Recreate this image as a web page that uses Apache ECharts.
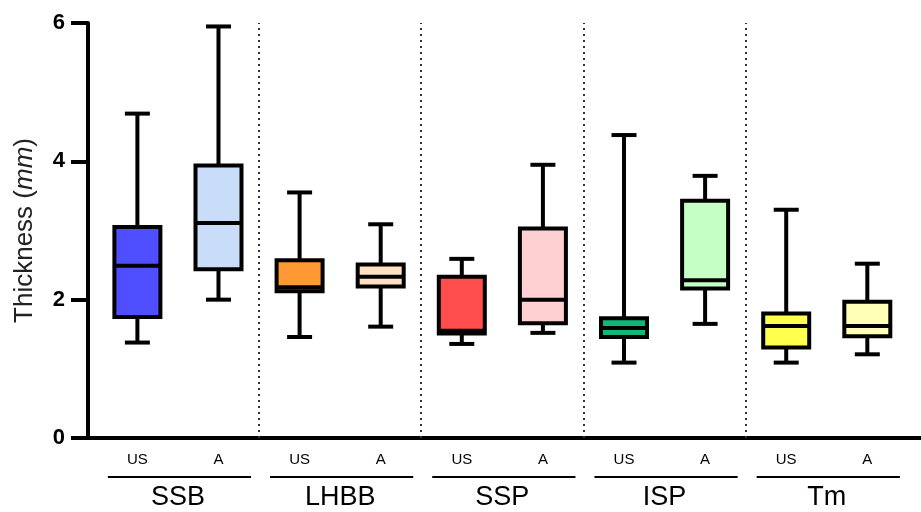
<!DOCTYPE html>
<html>
<head>
<meta charset="utf-8">
<title>Thickness</title>
<script src="https://cdn.jsdelivr.net/npm/echarts@6/dist/echarts.min.js"></script>
<style>
  html, body { margin: 0; padding: 0; background: #fff; }
  #main { width: 921px; height: 512px; }
</style>
</head>
<body>
<div id="main"></div>
<script>
// groups and the two sub-groups in each
const groups = ['SSB', 'LHBB', 'SSP', 'ISP', 'Tm']
const subLabels = ['US', 'A', 'US', 'A', 'US', 'A', 'US', 'A', 'US', 'A']

// box values, one per box
const mins    = [1.38, 2.00, 1.46, 1.61, 1.36, 1.52, 1.09, 1.65, 1.09, 1.21]
const q1s     = [1.75, 2.44, 2.12, 2.19, 1.51, 1.66, 1.46, 2.16, 1.31, 1.47]
const medians = [2.49, 3.11, 2.18, 2.33, 1.55, 2.00, 1.59, 2.28, 1.62, 1.62]
const q3s     = [3.05, 3.94, 2.57, 2.51, 2.33, 3.03, 1.73, 3.43, 1.80, 1.97]
const maxs    = [4.69, 5.95, 3.55, 3.09, 2.59, 3.95, 4.38, 3.79, 3.30, 2.52]

const yTicks = [0, 2, 4, 6]

const colors = ['#4f4fff', '#c9ddf8', '#ff9933', '#ffe0c0', '#ff4d4d',
                '#ffd0d2', '#12b87a', '#c6ffc6', '#ffff4d', '#ffffb8']

const FONT = "'Liberation Sans', Arial, sans-serif"
const LW = 4

const boxData = []
for (let i = 0; i < subLabels.length; i++) {
  boxData.push({
    value: [i, mins[i], q1s[i], medians[i], q3s[i], maxs[i]],
    itemStyle: { color: colors[i] }
  })
}
const groupData = groups.map((g, i) => [i])

const chart = echarts.init(document.getElementById('main'), null, { renderer: 'canvas' })

function renderBox(params, api) {
  const x = api.value(0)
  const cx = api.coord([x, 0])[0]
  const y = k => api.coord([x, api.value(k)])[1]
  const yMin = y(1), yQ1 = y(2), yMed = y(3), yQ3 = y(4), yMax = y(5)
  const half = 23, cap = 12.5
  const line = { stroke: '#000', lineWidth: LW }
  return {
    type: 'group',
    children: [
      { type: 'line', shape: { x1: cx, y1: yQ3, x2: cx, y2: yMax }, style: line },
      { type: 'line', shape: { x1: cx, y1: yQ1, x2: cx, y2: yMin }, style: line },
      { type: 'line', shape: { x1: cx - cap, y1: yMax, x2: cx + cap, y2: yMax }, style: line },
      { type: 'line', shape: { x1: cx - cap, y1: yMin, x2: cx + cap, y2: yMin }, style: line },
      { type: 'rect', shape: { x: cx - half, y: yQ3, width: half * 2, height: yQ1 - yQ3 },
        style: { fill: api.visual('color'), stroke: '#000', lineWidth: LW } },
      { type: 'line', shape: { x1: cx - half, y1: yMed, x2: cx + half, y2: yMed }, style: line }
    ]
  }
}

function renderGroupLine(params, api) {
  const g = api.value(0)
  const left = api.coord([g * 2 - 0.5, 0])
  const right = api.coord([g * 2 + 1.5, 0])
  const yy = left[1] + 39
  return {
    type: 'line',
    shape: { x1: left[0] + 11, y1: yy, x2: right[0] - 8, y2: yy },
    style: { stroke: '#000', lineWidth: 2 }
  }
}

const xCommon = {
  type: 'value',
  min: -0.609,
  max: 9.662,
  splitLine: { show: false },
  axisTick: { show: false }
}

const option = {
  animation: false,
  backgroundColor: '#fff',
  grid: { left: 88, right: 0, top: 23, bottom: 74 },
  xAxis: [
    Object.assign({}, xCommon, {
      position: 'bottom',
      axisLine: { show: true, onZero: false, lineStyle: { color: '#000', width: LW } },
      axisLabel: {
        customValues: subLabels.map((s, i) => i),
        formatter: v => subLabels[Math.round(v)],
        margin: 14,
        fontSize: 15,
        fontFamily: FONT,
        color: '#000'
      }
    }),
    Object.assign({}, xCommon, {
      position: 'bottom',
      axisLine: { show: false },
      axisLabel: {
        customValues: groups.map((g, i) => i * 2 + 0.5),
        formatter: v => groups[Math.round((v - 0.5) / 2)],
        margin: 46,
        fontSize: 27,
        fontFamily: FONT,
        color: '#000'
      }
    })
  ],
  yAxis: {
    type: 'value',
    min: yTicks[0],
    max: yTicks[yTicks.length - 1],
    interval: 2,
    name: '{n|Thickness (}{i|mm}{n|)}',
    nameLocation: 'middle',
    nameGap: 50,
    nameTextStyle: {
      rich: {
        n: { fontSize: 26, fontFamily: FONT, color: '#222' },
        i: { fontSize: 26, fontFamily: FONT, fontStyle: 'italic', color: '#222' }
      }
    },
    axisLine: { show: true, onZero: false, lineStyle: { color: '#000', width: LW } },
    axisTick: { show: true, length: 17, lineStyle: { color: '#000', width: LW } },
    axisLabel: { margin: 23, fontSize: 22, fontWeight: 'bold', fontFamily: FONT, color: '#000' },
    splitLine: { show: false }
  },
  series: [
    {
      type: 'custom',
      name: 'separators',
      data: [],
      renderItem: () => null,
      markLine: {
        silent: true,
        symbol: 'none',
        label: { show: false },
        lineStyle: { color: '#333', width: 2, type: [2, 4], cap: 'butt' },
        data: [{ xAxis: 1.5 }, { xAxis: 3.5 }, { xAxis: 5.5 }, { xAxis: 7.5 }]
      }
    },
    {
      type: 'custom',
      name: 'boxes',
      data: boxData,
      renderItem: renderBox,
      encode: { x: 0, y: [1, 2, 3, 4, 5] }
    },
    {
      type: 'custom',
      name: 'groupLines',
      data: groupData,
      renderItem: renderGroupLine,
      encode: { x: 0 }
    }
  ]
}

chart.setOption(option)
window.onresize = chart.resize
</script>
</body>
</html>
